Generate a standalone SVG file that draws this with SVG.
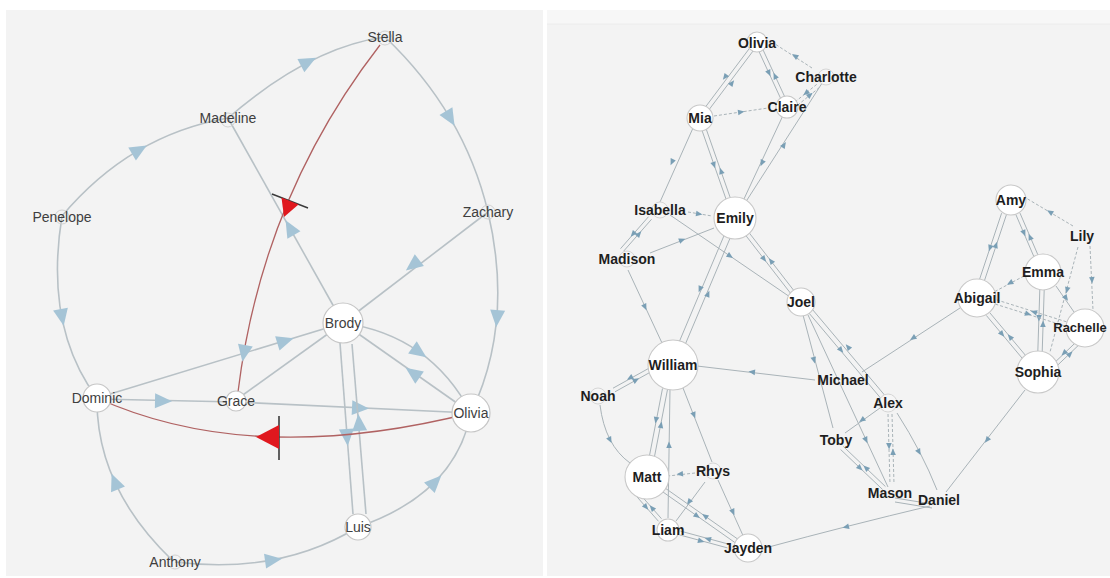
<svg xmlns="http://www.w3.org/2000/svg" xmlns:xlink="http://www.w3.org/1999/xlink" width="1110" height="578" viewBox="0 0 1110 578">
<style>
.bg{fill:#f3f3f3}
.le{fill:none;stroke:#b8c1c6;stroke-width:1.6}
.red{fill:none;stroke:#b06262;stroke-width:1.3}
.ln{fill:#ffffff;stroke:#c6c6c6;stroke-width:1.2}
.lns{fill:none;stroke:#d2d2d2;stroke-width:1}
.lt{font-family:"Liberation Sans",Arial,sans-serif;font-size:14px;fill:#3e3e3e;text-anchor:middle;dominant-baseline:central}
.re{fill:none;stroke:#a9b3b8;stroke-width:1}
.rd{fill:none;stroke:#a9b3b8;stroke-width:1;stroke-dasharray:3 2}
.rn{fill:#ffffff;stroke:#c8c8c8;stroke-width:1.1}
.rns{fill:#f6f6f6;stroke:#d6d6d6;stroke-width:1}
.rt{font-family:"Liberation Sans",Arial,sans-serif;font-size:14px;font-weight:bold;fill:#1e1e1e;text-anchor:middle;dominant-baseline:central}
</style>
<defs>
<path id="la" d="M9,0 L-8,-7.5 L-8,7.5 Z" fill="#a5c4d6"/>
<path id="ra" d="M3.5,0 L-3,-2.8 L-3,2.8 Z" fill="#7a9fb5"/>
</defs>
<rect width="1110" height="578" fill="#ffffff"/>
<rect class="bg" x="6" y="10" width="537" height="566"/>
<rect class="bg" x="547" y="10" width="563" height="566"/>
<rect x="547" y="10" width="563" height="14" fill="#f7f7f7"/>
<line x1="547" y1="24" x2="1110" y2="24" stroke="#ececec" stroke-width="1"/>

<g id="connectors">
<!-- left panel -->
<path class="le" d="M62,216 Q130,135 228,118"/>
<use href="#la" transform="translate(139,150) rotate(-30.6)"/>
<path class="le" d="M228,118 Q310,47 385,37"/>
<use href="#la" transform="translate(308,62) rotate(-27.3)"/>
<path class="le" d="M385,37 Q464,112 488,212"/>
<use href="#la" transform="translate(450,118) rotate(59.5)"/>
<path class="le" d="M488,212 Q514,323 471,413"/>
<use href="#la" transform="translate(497,318) rotate(94.8)"/>
<path class="le" d="M62,216 Q44,327 97,398"/>
<use href="#la" transform="translate(62,317) rotate(79)"/>
<path class="le" d="M172,560 Q96,487 97,398"/>
<use href="#la" transform="translate(115,482) rotate(-112)"/>
<path class="le" d="M175,562 Q280,575 358,527"/>
<use href="#la" transform="translate(273,560) rotate(-8)"/>
<path class="le" d="M358,527 Q455,494 471,413"/>
<use href="#la" transform="translate(435,482) rotate(-45.3)"/>
<path class="le" d="M488,212 L343,323"/>
<use href="#la" transform="translate(413,265) rotate(142.6)"/>
<path class="le" d="M343,323 L228,118"/>
<use href="#la" transform="translate(290,228) rotate(-119.3)"/>
<path class="le" d="M97,399 L236,402"/>
<use href="#la" transform="translate(163,401) rotate(1)"/>
<path class="le" d="M236,402 L471,413"/>
<use href="#la" transform="translate(360,408) rotate(2.7)"/>
<path class="le" d="M97,398 L343,323"/>
<use href="#la" transform="translate(285,341) rotate(-17)"/>
<path class="le" d="M236,400 L343,323"/>
<path class="le" d="M343,323 Q430,335 471,413"/>
<use href="#la" transform="translate(419,352) rotate(35)"/>
<path class="le" d="M471,413 Q420,377 343,323"/>
<use href="#la" transform="translate(413,373) rotate(215)"/>
<path class="le" d="M340,343 L353,514"/>
<use href="#la" transform="translate(347,437) rotate(85.7)"/>
<path class="le" d="M366,514 L352,344"/>
<use href="#la" transform="translate(359,423) rotate(-94.7)"/>
<path class="red" d="M380,45 Q262,197 238,392"/>
<use href="#la" transform="translate(244,353) rotate(100)"/>
<path class="red" d="M471,413 Q252,468 97,398"/>
<line x1="272" y1="194" x2="308" y2="208" stroke="#3a3a3a" stroke-width="1.4"/>
<polygon points="281.5,197.5 298.5,204.5 284,217" fill="#e0181e"/>
<line x1="279" y1="416" x2="279" y2="460" stroke="#3a3a3a" stroke-width="1.6"/>
<polygon points="256,437 279,425 279,449" fill="#e0181e"/>

<!-- right panel -->
<path class="re" d="M755.2,40.7 L698.2,116.7"/><use href="#ra" transform="translate(725,77) rotate(126.9)"/>
<path class="re" d="M758.8,43.3 L701.8,119.3"/><use href="#ra" transform="translate(732,83) rotate(-53.1)"/>
<path class="re" d="M755,42.9 L785,107.9"/><use href="#ra" transform="translate(769,73) rotate(65.2)"/>
<path class="re" d="M759,41.1 L789,106.1"/><use href="#ra" transform="translate(775,76) rotate(-114.8)"/>
<path class="rd" d="M812,68 L775,44"/><use href="#ra" transform="translate(795,56) rotate(213)"/>
<path class="rd" d="M816.7,84.4 L795.7,101.4"/><use href="#ra" transform="translate(806,93) rotate(141)"/>
<path class="rd" d="M819.3,87.6 L798.3,104.6"/><use href="#ra" transform="translate(810,95) rotate(-39)"/>
<path class="rd" d="M714,116 L768,108"/><use href="#ra" transform="translate(741,112) rotate(-8)"/>
<path class="re" d="M697.9,118.7 L732.9,218.7"/><use href="#ra" transform="translate(714,165) rotate(70.7)"/>
<path class="re" d="M702.1,117.3 L737.1,217.3"/><use href="#ra" transform="translate(721,171) rotate(-109.3)"/>
<path class="re" d="M786,109 L736,216"/><use href="#ra" transform="translate(762,163) rotate(115)"/>
<path class="re" d="M826,77 L738,214"/><use href="#ra" transform="translate(784,145) rotate(-57)"/>
<path class="re" d="M693,128 L660,202"/><use href="#ra" transform="translate(672,162) rotate(114)"/>
<path class="rd" d="M688,212 L712,216"/><use href="#ra" transform="translate(699,214) rotate(9)"/>
<path class="re" d="M648.5,216.7 L620.5,248.7"/><use href="#ra" transform="translate(633,234) rotate(131.2)"/>
<path class="re" d="M651.5,219.3 L623.5,251.3"/><use href="#ra" transform="translate(639,234) rotate(-48.8)"/>
<path class="re" d="M650,253 L714,228"/><use href="#ra" transform="translate(682,240) rotate(-21)"/>
<path class="re" d="M670,215 L790,297"/><use href="#ra" transform="translate(730,256) rotate(34)"/>
<path class="re" d="M733.3,219.3 L798.3,303.3"/><use href="#ra" transform="translate(764,259) rotate(52.3)"/>
<path class="re" d="M736.7,216.7 L801.7,300.7"/><use href="#ra" transform="translate(771,261) rotate(-127.7)"/>
<path class="re" d="M732,216.7 L670,363.7"/><use href="#ra" transform="translate(700,289) rotate(112.9)"/>
<path class="re" d="M738,219.3 L676,366.3"/><use href="#ra" transform="translate(708,294) rotate(-67.1)"/>
<path class="re" d="M628,270 L662,343"/><use href="#ra" transform="translate(645,307) rotate(65)"/>
<path class="re" d="M803,315 L833,428"/><use href="#ra" transform="translate(814,360) rotate(75)"/>
<path class="re" d="M808,315 L888,487"/><use href="#ra" transform="translate(866,440) rotate(65)"/>
<path class="re" d="M801,303.6 L886.1,404.6"/><use href="#ra" transform="translate(841,350) rotate(49.4)"/>
<path class="re" d="M804.8,300.4 L889.9,401.4"/><use href="#ra" transform="translate(848,347) rotate(-130.6)"/>
<path class="re" d="M880,408 L845,433"/><use href="#ra" transform="translate(862,420) rotate(144)"/>
<path class="re" d="M840.6,449.5 L882.6,489.5"/><use href="#ra" transform="translate(860,468) rotate(43.6)"/>
<path class="re" d="M843.4,446.5 L885.4,486.5"/><use href="#ra" transform="translate(866,468) rotate(-136.4)"/>
<path class="rd" d="M888,414 L890,484"/><use href="#ra" transform="translate(889,446) rotate(88)"/>
<path class="rd" d="M892,414 L894,484"/><use href="#ra" transform="translate(893,452) rotate(-92)"/>
<path class="re" d="M897,413 Q922,452 937,490"/><use href="#ra" transform="translate(919,452) rotate(62.5)"/>
<path class="re" d="M895,498 L932,504"/>
<path class="re" d="M895,502 L932,508"/>
<path class="re" d="M930,506 Q850,525 765,548"/><use href="#ra" transform="translate(846,527) rotate(165.7)"/>
<path class="re" d="M1025,390 L946,492"/><use href="#ra" transform="translate(987,440) rotate(127.8)"/>
<path class="re" d="M960,308 L862,372"/><use href="#ra" transform="translate(913,338) rotate(146.9)"/>
<path class="re" d="M815,380 L697,366"/><use href="#ra" transform="translate(752,372) rotate(186.8)"/>
<path class="re" d="M649,368.2 L613,388.2"/><use href="#ra" transform="translate(630,378) rotate(151)"/>
<path class="re" d="M651,371.8 L615,391.8"/><use href="#ra" transform="translate(636,380) rotate(-29)"/>
<path class="re" d="M600,405 Q605,445 630,463"/><use href="#ra" transform="translate(610,440) rotate(62.7)"/>
<path class="re" d="M662.5,388.5 L649.5,455.5"/><use href="#ra" transform="translate(656,420) rotate(101)"/>
<path class="re" d="M667.5,389.5 L654.5,456.5"/><use href="#ra" transform="translate(661,425) rotate(-79)"/>
<path class="re" d="M670,389 L668,518"/><use href="#ra" transform="translate(669,445) rotate(-91)"/>
<path class="re" d="M683,388 L712,462"/><use href="#ra" transform="translate(694,415) rotate(68.6)"/>
<path class="re" d="M718,480 L745,540"/><use href="#ra" transform="translate(733,512) rotate(65.8)"/>
<path class="rd" d="M695,473 L668,476"/><use href="#ra" transform="translate(680,474) rotate(174)"/>
<path class="re" d="M705,482 L676,521"/><use href="#ra" transform="translate(689,502) rotate(126.6)"/>
<path class="re" d="M636.5,496.3 L658.5,521.3"/><use href="#ra" transform="translate(646,507) rotate(48.7)"/>
<path class="re" d="M639.5,493.7 L661.5,518.7"/><use href="#ra" transform="translate(652,508) rotate(-131.3)"/>
<path class="re" d="M662.7,491.8 L736.7,543.8"/><use href="#ra" transform="translate(697,516) rotate(35.1)"/>
<path class="re" d="M665.3,488.2 L739.3,540.2"/><use href="#ra" transform="translate(705,516) rotate(-144.9)"/>
<path class="re" d="M679.5,534.9 L727.5,547.9"/><use href="#ra" transform="translate(701,541) rotate(15.2)"/>
<path class="re" d="M680.5,531.1 L728.5,544.1"/><use href="#ra" transform="translate(708,539) rotate(-164.8)"/>
<path class="re" d="M1001.6,213.2 L979.6,279.2"/><use href="#ra" transform="translate(990,248) rotate(108.4)"/>
<path class="re" d="M1006.4,214.8 L984.4,280.8"/><use href="#ra" transform="translate(996,245) rotate(-71.6)"/>
<path class="re" d="M1016,214.9 L1034,256.9"/><use href="#ra" transform="translate(1024,233) rotate(66.8)"/>
<path class="re" d="M1020,213.1 L1038,255.1"/><use href="#ra" transform="translate(1030,237) rotate(-113.2)"/>
<path class="rd" d="M1073,226 L1026,198"/><use href="#ra" transform="translate(1050,212) rotate(210.8)"/>
<path class="rd" d="M1090,246 L1093,310"/><use href="#ra" transform="translate(1092,280) rotate(87)"/>
<path class="rd" d="M1078,247 L1050,352"/><use href="#ra" transform="translate(1067,290) rotate(104.9)"/>
<path class="rd" d="M1024,276 L994,292"/><use href="#ra" transform="translate(1010,283) rotate(151.9)"/>
<path class="re" d="M1039.8,290 L1037.8,352"/><use href="#ra" transform="translate(1039,318) rotate(91.8)"/>
<path class="re" d="M1044.2,290 L1042.2,352"/><use href="#ra" transform="translate(1043,324) rotate(-88.2)"/>
<path class="re" d="M1056,286 L1074,312"/><use href="#ra" transform="translate(1066,298) rotate(55)"/>
<path class="rd" d="M995.3,304.1 L1065.3,326.1"/><use href="#ra" transform="translate(1028,314) rotate(17.4)"/>
<path class="rd" d="M996.7,299.9 L1066.7,321.9"/><use href="#ra" transform="translate(1034,312) rotate(-162.6)"/>
<path class="re" d="M986.3,315.4 L1022.3,358.4"/><use href="#ra" transform="translate(1002,334) rotate(50)"/>
<path class="re" d="M989.7,312.6 L1025.7,355.6"/><use href="#ra" transform="translate(1010,337) rotate(-130)"/>
<path class="re" d="M1076.6,341.6 L1054.6,362.6"/><use href="#ra" transform="translate(1064,353) rotate(136.3)"/>
<path class="re" d="M1079.4,344.4 L1057.4,365.4"/><use href="#ra" transform="translate(1070,354) rotate(-43.7)"/>
</g>

<!-- left nodes -->
<g id="n-stella"><circle class="lns" cx="385" cy="38" r="7"/><text class="lt" x="385" y="37">Stella</text></g>
<g id="n-madeline"><circle class="lns" cx="228" cy="120" r="7"/><text class="lt" x="228" y="118">Madeline</text></g>
<g id="n-penelope"><circle class="lns" cx="62" cy="217" r="7"/><text class="lt" x="62" y="217">Penelope</text></g>
<g id="n-zachary"><circle class="lns" cx="488" cy="212" r="7"/><text class="lt" x="488" y="212">Zachary</text></g>
<g id="n-brody"><circle class="ln" cx="343" cy="323" r="20"/><text class="lt" x="343" y="323">Brody</text></g>
<g id="n-dominic"><circle class="ln" cx="97" cy="398" r="14"/><text class="lt" x="97" y="398">Dominic</text></g>
<g id="n-grace"><circle class="ln" cx="236" cy="401" r="10"/><text class="lt" x="236" y="401">Grace</text></g>
<g id="n-olivia-l"><circle class="ln" cx="471" cy="413" r="19"/><text class="lt" x="471" y="413">Olivia</text></g>
<g id="n-luis"><circle class="ln" cx="358" cy="527" r="13"/><text class="lt" x="358" y="527">Luis</text></g>
<g id="n-anthony"><circle class="lns" cx="175" cy="562" r="7"/><text class="lt" x="175" y="562">Anthony</text></g>

<!-- right nodes -->
<g id="n-olivia-r"><circle class="rn" cx="757" cy="42" r="10"/><text class="rt" x="757" y="43">Olivia</text></g>
<g id="n-charlotte"><circle class="rns" cx="826" cy="77" r="8"/><text class="rt" x="826" y="77">Charlotte</text></g>
<g id="n-mia"><circle class="rn" cx="700" cy="118" r="13"/><text class="rt" x="700" y="118">Mia</text></g>
<g id="n-claire"><circle class="rn" cx="787" cy="107" r="11"/><text class="rt" x="787" y="107">Claire</text></g>
<g id="n-isabella"><circle class="rns" cx="660" cy="210" r="8"/><text class="rt" x="660" y="210">Isabella</text></g>
<g id="n-emily"><circle class="rn" cx="735" cy="218" r="21"/><text class="rt" x="735" y="218">Emily</text></g>
<g id="n-madison"><circle class="rns" cx="627" cy="259" r="8"/><text class="rt" x="627" y="259">Madison</text></g>
<g id="n-joel"><circle class="rn" cx="801" cy="302" r="14"/><text class="rt" x="801" y="302">Joel</text></g>
<g id="n-william"><circle class="rn" cx="673" cy="365" r="25"/><text class="rt" x="673" y="365">William</text></g>
<g id="n-noah"><circle class="rns" cx="598" cy="396" r="8"/><text class="rt" x="598" y="396">Noah</text></g>
<g id="n-matt"><circle class="rn" cx="647" cy="477" r="22"/><text class="rt" x="647" y="477">Matt</text></g>
<g id="n-rhys"><circle class="rns" cx="713" cy="471" r="8"/><text class="rt" x="713" y="471">Rhys</text></g>
<g id="n-liam"><circle class="rn" cx="668" cy="530" r="11"/><text class="rt" x="668" y="530">Liam</text></g>
<g id="n-jayden"><circle class="rn" cx="748" cy="548" r="14"/><text class="rt" x="748" y="548">Jayden</text></g>
<g id="n-michael"><text class="rt" x="843" y="380">Michael</text></g>
<g id="n-alex"><circle class="rns" cx="888" cy="403" r="9"/><text class="rt" x="888" y="403">Alex</text></g>
<g id="n-toby"><text class="rt" x="836" y="440">Toby</text></g>
<g id="n-mason"><text class="rt" x="890" y="493">Mason</text></g>
<g id="n-daniel"><text class="rt" x="939" y="500">Daniel</text></g>
<g id="n-abigail"><circle class="rn" cx="977" cy="298" r="19"/><text class="rt" x="977" y="298">Abigail</text></g>
<g id="n-amy"><circle class="rn" cx="1011" cy="200" r="15"/><text class="rt" x="1011" y="200">Amy</text></g>
<g id="n-lily"><text class="rt" x="1082" y="236">Lily</text></g>
<g id="n-emma"><circle class="rn" cx="1043" cy="272" r="18"/><text class="rt" x="1043" y="272">Emma</text></g>
<g id="n-rachelle"><circle class="rn" cx="1085" cy="328" r="19"/><text class="rt" x="1080" y="327" style="font-size:13px">Rachelle</text></g>
<g id="n-sophia"><circle class="rn" cx="1038" cy="372" r="21"/><text class="rt" x="1038" y="372">Sophia</text></g>
</svg>
